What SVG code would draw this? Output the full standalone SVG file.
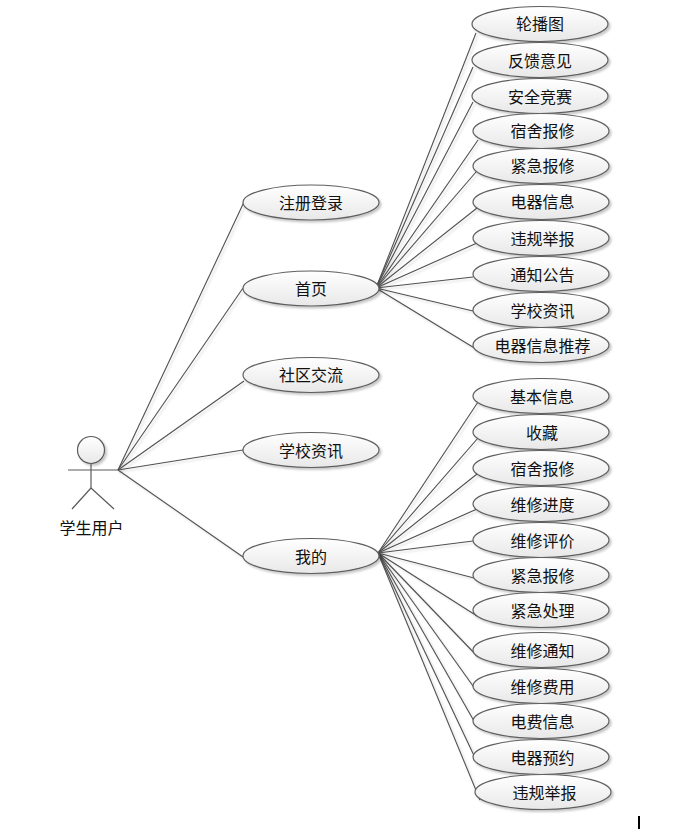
<svg xmlns="http://www.w3.org/2000/svg" width="676" height="829" viewBox="0 0 676 829">
<style>
.n ellipse{fill:url(#g);stroke:#5f5f5f;stroke-width:1.2;filter:url(#s)}
text{font-family:"Noto Sans CJK SC","Noto Sans",sans-serif;font-size:16px;fill:#111;text-anchor:middle;dominant-baseline:central}
#connectors line{stroke:#505050;stroke-width:1.1;filter:url(#ls)}
#actor *{stroke:#5a5a5a;stroke-width:1.2;fill:none}
#actor circle{fill:url(#g);filter:url(#s)}
</style>
<defs>
<linearGradient id="g" x1="0" y1="0" x2="0" y2="1"><stop offset="0" stop-color="#ffffff"/><stop offset="1" stop-color="#e8e8e8"/></linearGradient>
<filter id="s" x="-10%" y="-20%" width="125%" height="150%"><feDropShadow dx="2" dy="2" stdDeviation="1.2" flood-color="#000" flood-opacity=".22"/></filter>
<filter id="ls" filterUnits="userSpaceOnUse" x="0" y="0" width="676" height="829"><feDropShadow dx="2" dy="2" stdDeviation=".8" flood-color="#000" flood-opacity=".15"/></filter>
</defs>
<rect width="676" height="829" fill="#fff"/>
<g id="connectors">
<line x1="118" y1="470" x2="244" y2="202"/>
<line x1="118" y1="470" x2="243" y2="288"/>
<line x1="118" y1="470" x2="244" y2="381"/>
<line x1="118" y1="470" x2="243" y2="450"/>
<line x1="118" y1="470" x2="243" y2="557"/>
<line x1="376" y1="288" x2="476" y2="33"/>
<line x1="376" y1="288" x2="473" y2="67"/>
<line x1="376" y1="288" x2="473" y2="102"/>
<line x1="376" y1="288" x2="478" y2="140"/>
<line x1="376" y1="288" x2="476" y2="172"/>
<line x1="376" y1="288" x2="477" y2="208"/>
<line x1="376" y1="288" x2="477" y2="243"/>
<line x1="376" y1="288" x2="473" y2="277"/>
<line x1="376" y1="288" x2="473" y2="311"/>
<line x1="376" y1="288" x2="476" y2="349"/>
<line x1="378" y1="553" x2="478" y2="402"/>
<line x1="378" y1="553" x2="478" y2="438"/>
<line x1="378" y1="553" x2="477" y2="474"/>
<line x1="378" y1="553" x2="477" y2="509"/>
<line x1="378" y1="553" x2="473" y2="541"/>
<line x1="378" y1="553" x2="474" y2="578"/>
<line x1="378" y1="553" x2="477" y2="616"/>
<line x1="378" y1="553" x2="478" y2="657"/>
<line x1="378" y1="553" x2="478" y2="693"/>
<line x1="378" y1="553" x2="478" y2="728"/>
<line x1="378" y1="553" x2="478" y2="764"/>
<line x1="378" y1="553" x2="480" y2="800"/>
</g>
<g id="actor">
<circle cx="91" cy="450" r="13.5"/>
<line x1="91" y1="463" x2="91" y2="488"/>
<line x1="68" y1="470" x2="118" y2="470"/>
<line x1="91" y1="488" x2="72" y2="509"/>
<line x1="91" y1="488" x2="114" y2="509"/>
<text x="91.500" y="527" style="stroke:none;fill:#111">学生用户</text>
</g>
<g id="n1" class="n"><ellipse cx="311" cy="202.500" rx="68" ry="17.500"/><text x="311" y="202">注册登录</text></g>
<g id="n2" class="n"><ellipse cx="311" cy="288.500" rx="68" ry="17.500"/><text x="311" y="288">首页</text></g>
<g id="n3" class="n"><ellipse cx="311" cy="375" rx="68" ry="17.500"/><text x="311" y="374">社区交流</text></g>
<g id="n4" class="n"><ellipse cx="311" cy="450" rx="68" ry="17.500"/><text x="311" y="449.500">学校资讯</text></g>
<g id="n5" class="n"><ellipse cx="311" cy="556" rx="68" ry="17.500"/><text x="311" y="555.500">我的</text></g>
<g id="a1" class="n"><ellipse cx="540" cy="24" rx="68" ry="17.500"/><text x="540" y="23">轮播图</text></g>
<g id="a2" class="n"><ellipse cx="540" cy="60" rx="68" ry="17.500"/><text x="540" y="59.500">反馈意见</text></g>
<g id="a3" class="n"><ellipse cx="540" cy="96" rx="68" ry="17.500"/><text x="540" y="95.500">安全竞赛</text></g>
<g id="a4" class="n"><ellipse cx="541" cy="131" rx="68" ry="17.500"/><text x="542.500" y="130">宿舍报修</text></g>
<g id="a5" class="n"><ellipse cx="541" cy="166" rx="68" ry="17.500"/><text x="542.500" y="165">紧急报修</text></g>
<g id="a6" class="n"><ellipse cx="541" cy="202" rx="68" ry="17.500"/><text x="542.500" y="201">电器信息</text></g>
<g id="a7" class="n"><ellipse cx="541" cy="238" rx="68" ry="17.500"/><text x="542.500" y="237.500">违规举报</text></g>
<g id="a8" class="n"><ellipse cx="541" cy="274" rx="68" ry="17.500"/><text x="542.500" y="273.500">通知公告</text></g>
<g id="a9" class="n"><ellipse cx="541" cy="310" rx="68" ry="17.500"/><text x="542.500" y="309.500">学校资讯</text></g>
<g id="a10" class="n"><ellipse cx="541" cy="345" rx="68" ry="17.500"/><text x="542.500" y="344.500">电器信息推荐</text></g>
<g id="b1" class="n"><ellipse cx="541" cy="396" rx="68" ry="17.500"/><text x="542" y="395.500">基本信息</text></g>
<g id="b2" class="n"><ellipse cx="541" cy="432" rx="68" ry="17.500"/><text x="542" y="431.500">收藏</text></g>
<g id="b3" class="n"><ellipse cx="541" cy="468" rx="68" ry="17.500"/><text x="542.500" y="467.500">宿舍报修</text></g>
<g id="b4" class="n"><ellipse cx="541" cy="504" rx="68" ry="17.500"/><text x="542.500" y="503.500">维修进度</text></g>
<g id="b5" class="n"><ellipse cx="541" cy="540" rx="68" ry="17.500"/><text x="542.500" y="539.500">维修评价</text></g>
<g id="b6" class="n"><ellipse cx="541" cy="575" rx="68" ry="17.500"/><text x="542.500" y="574.500">紧急报修</text></g>
<g id="b7" class="n"><ellipse cx="541" cy="610" rx="68" ry="17.500"/><text x="542.500" y="609.500">紧急处理</text></g>
<g id="b8" class="n"><ellipse cx="541" cy="650" rx="68" ry="17.500"/><text x="542.500" y="649.500">维修通知</text></g>
<g id="b9" class="n"><ellipse cx="541" cy="686" rx="68" ry="17.500"/><text x="542.500" y="685.500">维修费用</text></g>
<g id="b10" class="n"><ellipse cx="541" cy="721" rx="68" ry="17.500"/><text x="542.500" y="720.500">电费信息</text></g>
<g id="b11" class="n"><ellipse cx="541" cy="757" rx="68" ry="17.500"/><text x="542.500" y="756.500">电器预约</text></g>
<g id="b12" class="n"><ellipse cx="543" cy="792" rx="68" ry="17.500"/><text x="544.500" y="791.500">违规举报</text></g>
<rect x="638" y="816" width="2" height="13" fill="#000"/>
</svg>
